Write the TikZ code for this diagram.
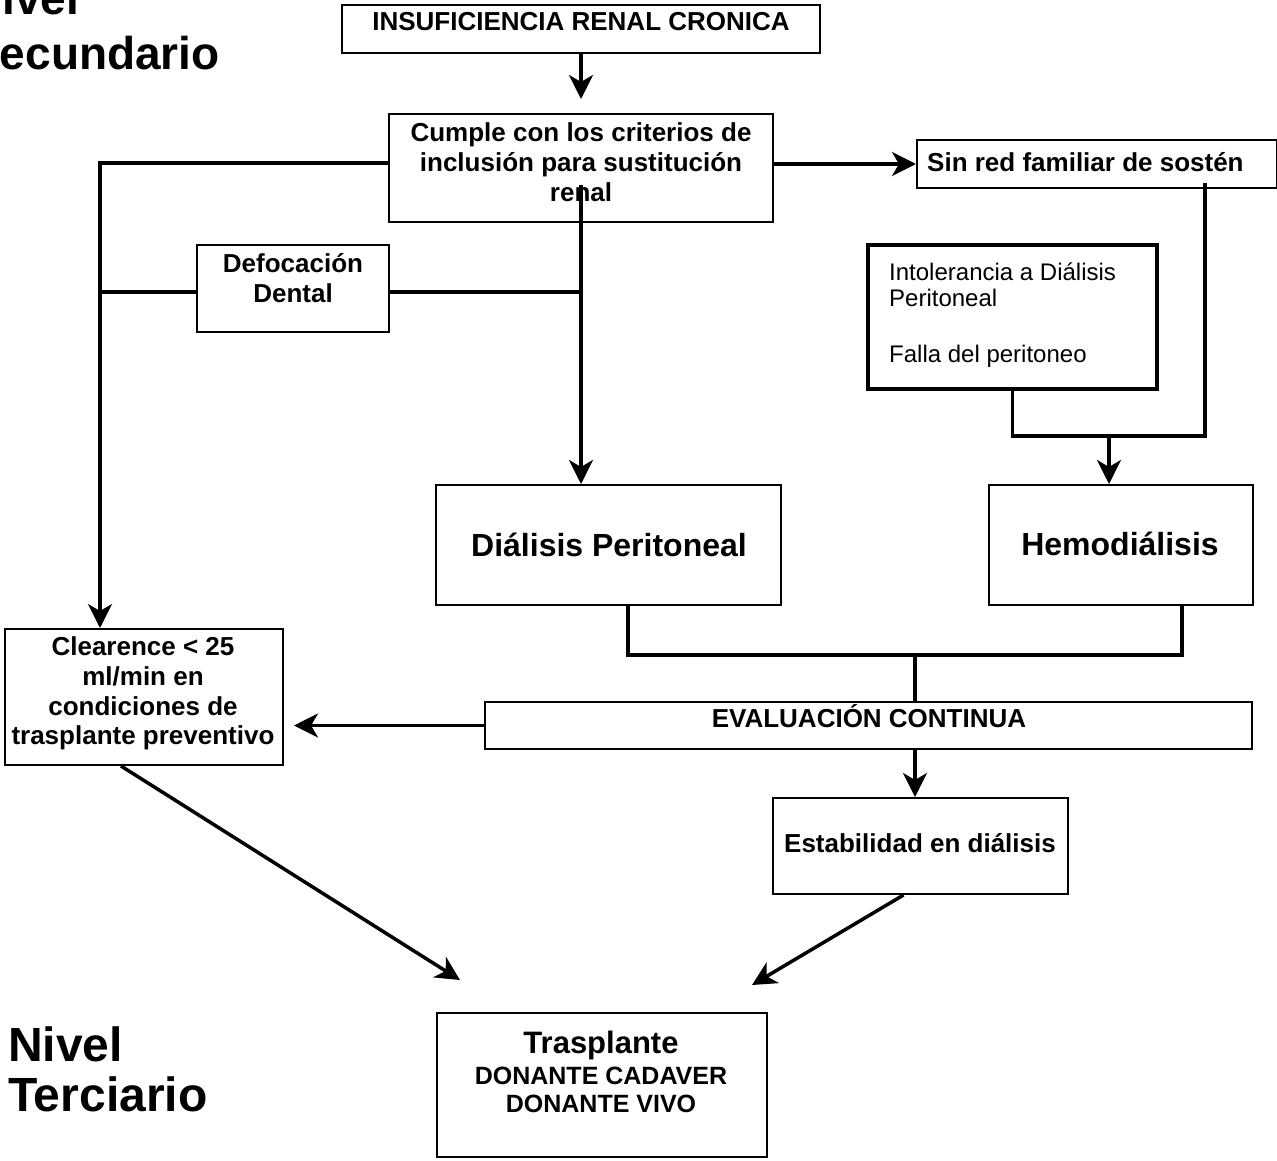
\documentclass[tikz,border=0pt]{standalone}
\usepackage{fontspec}
\setmainfont{Liberation Sans}
\usetikzlibrary{arrows.meta,fit}
\begin{document}
\begin{tikzpicture}[x=1pt,y=-1pt,
  box/.style={draw, line width=2pt, inner sep=0pt},
  heavybox/.style={draw, line width=4pt, inner sep=0pt},
  conn/.style={line width=3.5pt},
  arr/.style={conn, -{Stealth[length=24pt,width=24pt,inset=7pt]}},
  lbl/.style={inner sep=0pt, anchor=base, font=\fontsize{26}{30}\selectfont\bfseries},
  biglbl/.style={inner sep=0pt, anchor=base, font=\fontsize{32}{38}\selectfont\bfseries},
  plain/.style={inner sep=0pt, anchor=base west, font=\fontsize{24}{28}\selectfont},
  level/.style={inner sep=0pt, anchor=base west, font=\fontsize{48}{54}\selectfont\bfseries}]
\fill[white] (0,0) rectangle (1277,1161);
\useasboundingbox (0,0) rectangle (1277,1161);

% level headings
\node[level, font=\fontsize{46}{52}\selectfont\bfseries] (niv1) at (-31,15) {Nivel};
\node[level, font=\fontsize{46}{52}\selectfont\bfseries] (sec) at (-31,70) {Secundario};
\node[level] (niv2) at (8,1061) {Nivel};
\node[level] (ter) at (8,1111) {Terciario};

% boxes
\node[box, fit={(342,5)(820,53)}] (irc) {};
\node[box, fit={(389,114)(773,222)}] (crit) {};
\node[box, fit={(917,140)(1277,188)}] (sinred) {};
\node[box, fit={(197,245)(389,332)}] (def) {};
\node[heavybox, fit={(868,245)(1157,389)}] (intol) {};
\node[box, fit={(436,485)(781,605)}] (dp) {};
\node[box, fit={(989,485)(1253,605)}] (hemo) {};
\node[box, fit={(5,629)(283,765)}] (clear) {};
\node[box, fit={(485,702)(1252,749)}] (eval) {};
\node[box, fit={(773,798)(1068,894)}] (estab) {};
\node[box, fit={(437,1013)(767,1157)}] (trasp) {};

% box texts
\node[lbl] (ircT) at (581,31) {INSUFICIENCIA RENAL CRONICA};
\node[lbl] (critA) at (581,142) {Cumple con los criterios de};
\node[lbl] (critB) at (581,172) {inclusión para sustitución};
\node[lbl] (critC) at (581,202) {renal};
\node[lbl, anchor=base west] (sinT) at (927,172) {Sin red familiar de sostén};
\node[lbl] (defA) at (293,272) {Defocación};
\node[lbl] (defB) at (293,302) {Dental};
\node[plain] (intA) at (889,280) {Intolerancia a Diálisis};
\node[plain] (intB) at (889,306) {Peritoneal};
\node[plain] (intC) at (889,362) {Falla del peritoneo};
\node[biglbl] (dpT) at (609,556) {Diálisis Peritoneal};
\node[biglbl] (hemoT) at (1120,555) {Hemodiálisis};
\node[lbl] (clA) at (143,655) {Clearence < 25};
\node[lbl] (clB) at (143,685) {ml/min en};
\node[lbl] (clC) at (143,715) {condiciones de};
\node[lbl] (clD) at (143,744) {trasplante preventivo};
\node[lbl] (evalT) at (869,727) {EVALUACIÓN CONTINUA};
\node[lbl] (estT) at (920,852) {Estabilidad en diálisis};
\node[biglbl, font=\fontsize{31}{36}\selectfont\bfseries] (trA) at (601,1053) {Trasplante};
\node[lbl, font=\fontsize{25}{30}\selectfont\bfseries] (trB) at (601,1084) {DONANTE CADAVER};
\node[lbl, font=\fontsize{25}{30}\selectfont\bfseries] (trC) at (601,1112) {DONANTE VIVO};

% junction points of the connectors
\coordinate (jl) at (100,163);
\coordinate (jc) at (581,185);
\coordinate (jd) at (581,292);
\coordinate (jh) at (1109,436);
\coordinate (js) at (1205,183);
\coordinate (jb) at (915,655);
\coordinate (tl) at (460,980);
\coordinate (tr) at (752,985);

% connectors
\draw[arr, shorten >=14pt] (irc.south) -- (crit.north);
\draw[arr] (crit.west |- jl) -- (jl) -- (jl |- clear.north);
\draw[arr] (crit.east |- sinred.west) -- (sinred.west);
\draw[arr] (jc) -- (jc |- dp.north);
\draw[conn] (def.west |- jd) -- (jl |- jd);
\draw[conn] (def.east |- jd) -- (jd);
\draw[conn] (intol.south) |- (js |- jh) -- (js);
\draw[arr] (jh) -- (jh |- hemo.north);
\draw[conn] ([xshift=19.5pt]dp.south) |- (jb) -| ([xshift=61pt]hemo.south);
\draw[conn] (jb) -- (jb |- eval.north);
\draw[arr, shorten >=10pt] (eval.west) -- (eval.west -| clear.east);
\draw[arr] (jb |- eval.south) -- (jb |- estab.north);
\draw[arr] ([xshift=-17pt]estab.south) -- (tr);
\draw[arr] ([xshift=-23pt]clear.south) -- (tl);
\end{tikzpicture}
\end{document}
